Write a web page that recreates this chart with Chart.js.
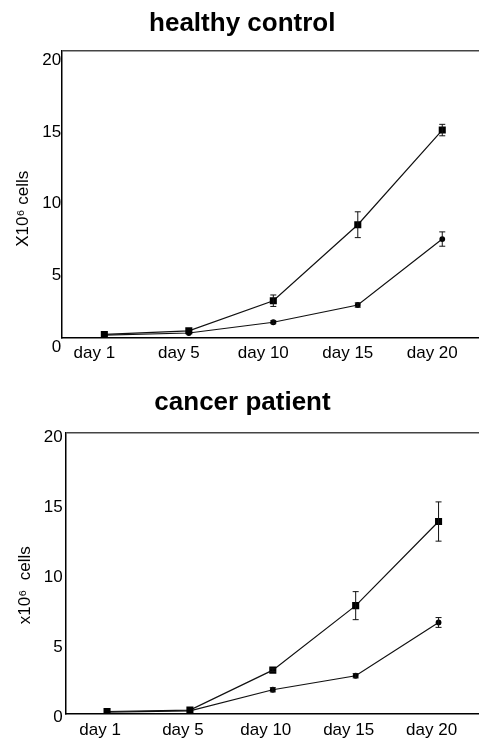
<!DOCTYPE html>
<html>
<head>
<meta charset="utf-8">
<script src="https://cdn.jsdelivr.net/npm/chart.js@4.4.0/dist/chart.umd.min.js"></script>
<style>
  html, body { margin: 0; padding: 0; background: #fff; overflow: hidden; }
  #top { position: absolute; left: 0; top: 0; }
  #bottom { position: absolute; left: 0; top: 370px; }
</style>
</head>
<body>
<canvas id="top" width="490" height="370"></canvas>
<canvas id="bottom" width="485" height="378"></canvas>
<script>
// shared axis values
var days = ['day 1', 'day 5', 'day 10', 'day 15', 'day 20'];
var yTicks = [0, 5, 10, 15, 20];

// healthy control (x10^6 cells)
var healthySquare = [0.25, 0.5, 2.6, 7.9, 14.5];
var healthySquareErr = [0, 0, 0.4, 0.9, 0.4];
var healthyCircle = [0.2, 0.35, 1.1, 2.3, 6.9];
var healthyCircleErr = [0, 0, 0.1, 0.15, 0.5];

// cancer patient (x10^6 cells)
var cancerSquare = [0.15, 0.25, 3.1, 7.7, 13.7];
var cancerSquareErr = [0, 0, 0.1, 1.0, 1.4];
var cancerCircle = [0.1, 0.2, 1.7, 2.7, 6.5];
var cancerCircleErr = [0, 0, 0.15, 0.15, 0.35];

var FONT = '"Liberation Sans", Arial, Helvetica, sans-serif';

// draws vertical error bars from dataset.errors
var errorBars = {
    id: 'errorBars',
    afterDatasetsDraw: function (chart) {
        var ctx = chart.ctx;
        var yScale = chart.scales.y;
        chart.data.datasets.forEach(function (ds, di) {
            if (!ds.errors) return;
            var meta = chart.getDatasetMeta(di);
            ctx.save();
            ctx.strokeStyle = '#111';
            ctx.lineWidth = 1;
            ds.data.forEach(function (v, i) {
                var e = ds.errors[i];
                if (!e) return;
                var x = meta.data[i].x;
                var yHi = yScale.getPixelForValue(v + e);
                var yLo = yScale.getPixelForValue(v - e);
                ctx.beginPath();
                ctx.moveTo(x, yHi); ctx.lineTo(x, yLo);
                ctx.moveTo(x - 3, yHi); ctx.lineTo(x + 3, yHi);
                ctx.moveTo(x - 3, yLo); ctx.lineTo(x + 3, yLo);
                ctx.stroke();
            });
            ctx.restore();
        });
    }
};

function makeChart(id, title, yTitle, sq, sqErr, ci, ciErr, lay) {
    return new Chart(document.getElementById(id), {
        type: 'line',
        data: {
            labels: days,
            datasets: [
                {
                    data: sq, errors: sqErr,
                    borderColor: '#111', borderWidth: 1.2,
                    pointStyle: 'rect', pointRadius: 5,
                    pointBackgroundColor: '#000', pointBorderColor: '#000', pointBorderWidth: 0
                },
                {
                    data: ci, errors: ciErr,
                    borderColor: '#111', borderWidth: 1.2,
                    pointStyle: 'circle', pointRadius: 2.9,
                    pointBackgroundColor: '#000', pointBorderColor: '#000', pointBorderWidth: 0
                }
            ]
        },
        options: {
            responsive: false,
            animation: false,
            layout: { padding: lay.padding },
            plugins: {
                legend: { display: false },
                tooltip: { enabled: false },
                title: {
                    display: true,
                    text: title,
                    color: '#000',
                    font: { family: FONT, size: 26, weight: 'bold' },
                    padding: lay.titlePad
                }
            },
            scales: {
                x: {
                    offset: true,
                    grid: { display: false, drawTicks: false },
                    border: { display: true, color: '#000', width: 1.5 },
                    ticks: {
                        color: '#000',
                        font: { family: FONT, size: 17 },
                        padding: lay.xPad,
                        labelOffset: lay.xLabelOffset,
                        maxRotation: 0, autoSkip: false
                    }
                },
                y: {
                    min: yTicks[0],
                    max: yTicks[yTicks.length - 1],
                    afterBuildTicks: function (axis) {
                        axis.ticks = yTicks.map(function (v) { return { value: v }; });
                    },
                    grid: {
                        drawTicks: false,
                        lineWidth: 1.5,
                        color: function (c) {
                            return c.tick && c.tick.value === 20 ? '#444' : 'rgba(0,0,0,0)';
                        }
                    },
                    border: { display: true, color: '#000', width: 1.5 },
                    ticks: {
                        color: '#000',
                        font: { family: FONT, size: 17 },
                        padding: lay.yPad,
                        labelOffset: lay.yLabelOffset,
                        callback: function (v) { return v < 10 ? '\u2007' + v : '' + v; }
                    },
                    title: {
                        display: true,
                        text: yTitle,
                        color: '#000',
                        font: { family: FONT, size: 17 },
                        padding: lay.yTitlePad
                    }
                }
            }
        },
        plugins: [errorBars]
    });
}

makeChart('top', 'healthy control', 'X10\u2076 cells      ',
    healthySquare, healthySquareErr, healthyCircle, healthyCircleErr, {
        padding: { left: 0, right: 5.5, top: 0, bottom: 1.6 },
        titlePad: { top: 8, bottom: 12 },
        xPad: 5, xLabelOffset: -10,
        yPad: 1, yLabelOffset: 9,
        yTitlePad: { top: 13, bottom: 7.8 }
    });

makeChart('bottom', 'cancer patient', 'x10\u2076  cells     ',
    cancerSquare, cancerSquareErr, cancerCircle, cancerCircleErr, {
        padding: { left: 0, right: 0, top: 0, bottom: 0 },
        titlePad: { top: 17.5, bottom: 14.5 },
        xPad: 7, xLabelOffset: -7,
        yPad: 3, yLabelOffset: 4,
        yTitlePad: { top: 15, bottom: 5.3 }
    });
</script>
</body>
</html>
